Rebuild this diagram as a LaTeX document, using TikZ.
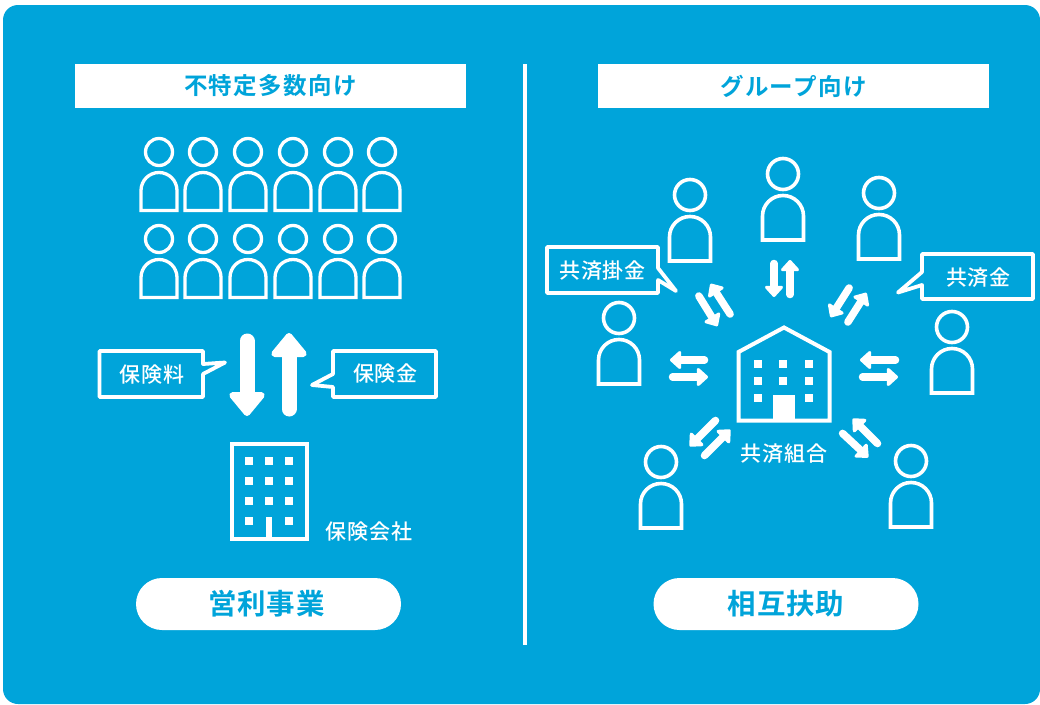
\documentclass[tikz,border=0pt]{standalone}
\usepackage{fontspec}
\setmainfont{Noto Sans CJK JP}
\usetikzlibrary{arrows.meta}
\definecolor{skyb}{HTML}{00A4DA}
\newfontfamily\lbl[LetterSpace=4]{Noto Sans CJK JP Medium}
\newfontfamily\hdr[LetterSpace=6]{Noto Sans CJK JP Bold}
\newfontfamily\pil[LetterSpace=3]{Noto Sans CJK JP Bold}
\tikzset{
  lineart/.style={draw=white,line width=#1,line join=miter},
  lineart/.default=3,
  txtw/.style={text=white,inner sep=0pt,font=\lbl\fontsize{21}{24}\selectfont},
  callout/.style={draw=white,line width=3.8,line join=round},
  bar/.style={fill=white,draw=none,text=skyb,inner sep=0pt,minimum width=391pt,minimum height=44pt,font=\hdr\fontsize{23.5}{26}\selectfont},
  pill/.style={fill=white,draw=none,text=skyb,rounded corners=26pt,inner sep=0pt,minimum width=265pt,minimum height=52pt,font=\pil\fontsize{28.5}{30}\selectfont},
  smallarrow/.style={draw=white,line width=7.5pt,line cap=round,-{Triangle[round,length=12pt,width=21pt]}},
  bigarrow/.style={draw=white,line width=15pt,line cap=round,-{Triangle[round,length=26pt,width=41pt]}},
}
% \persona{cx}{cy}{circle r}{half width}{body top offset}{body bottom offset}{stroke}
\newcommand\persona[7]{%
  \draw[lineart=#7] (#1,#2) circle[radius=#3pt];
  \draw[lineart=#7] (#1-#4,#2+#6) -- (#1-#4,#2+#5+#4) arc[start angle=180,end angle=0,radius=#4pt] -- (#1+#4,#2+#6) -- cycle;
}
\newcommand\lefty[2]{\persona{#1}{#2}{13.5}{18}{20.5}{58.5}{3.3}}
\newcommand\righty[2]{\persona{#1}{#2}{15.5}{20.5}{21.5}{66}{3.6}}
\newcommand\win[2]{\fill[white] (#1-3.8,#2-3.8) rectangle (#1+3.8,#2+3.8);}
\begin{document}
\begin{tikzpicture}[x=1pt,y=-1pt]
\useasboundingbox (0,0) rectangle (1040,704);
\fill[white] (0,0) rectangle (1040,704);
\fill[skyb,rounded corners=15pt] (3,5) rectangle (1040,704);
% divider
\coordinate (divt) at (525,64); \coordinate (divb) at (525,645);
\draw[white,line width=3.8pt] (divt) -- (divb);
% headers
\node[bar] (hl) at (270.5,86) {不特定多数向け};
\node[bar] (hr) at (793.5,86) {グループ向け};
% pills
\node[pill] (pl) at (268.5,604) {\hspace{-4pt}営利事業};
\node[pill] (pr) at (786,604) {相互扶助};
% crowd
\foreach \x in {159,203,248,293,338,382}{\lefty{\x}{152}\lefty{\x}{239}}
% big arrows
\coordinate (bd1) at (247,341); \coordinate (bd2) at (247,416);
\coordinate (bu1) at (289,409); \coordinate (bu2) at (289,333);
\draw[bigarrow] (bd1) -- (bd2);
\draw[bigarrow] (bu1) -- (bu2);
% callouts left
\draw[callout] (99.5,351) -- (203,351) -- (203,364) -- (225,362.5) -- (203,374) -- (203,397) -- (99.5,397) -- cycle;
\node[txtw] (t1) at (152,375) {保険料};
\draw[callout] (333,351) -- (436,351) -- (436,397) -- (333,397) -- (333,387) -- (312,385) -- (333,374) -- cycle;
\node[txtw] (t2) at (385.5,373.5) {保険金};
% left building
\draw[lineart=4] (232,444) rectangle (306.5,538.5);
\foreach \x in {249,269,289}\foreach \y in {461,481,501}{\win{\x}{\y}}
\win{249}{521}\win{289}{521}
\fill[white] (266,517) rectangle (272,540);
\node[txtw] (t3) at (369,532) {保険会社};
% right people
\righty{690}{195}\righty{783}{174}\righty{879}{193}\righty{952}{327}\righty{911}{461}\righty{661}{462}\righty{619}{318}
% right building
\draw[lineart=4] (738.5,420.5) -- (738.5,352) -- (784,327.5) -- (829.5,352) -- (829.5,420.5) -- cycle;
\foreach \x in {758,783,809}\foreach \y in {364,381}{\win{\x}{\y}}
\win{758}{398}\win{809}{398}
\fill[white] (773,395) rectangle (795,422);
\node[txtw] (t4) at (784,454) {共済組合};
% callouts right
\draw[callout] (547,247) -- (658,247) -- (658,268) -- (676,291) -- (658,280) -- (658,293) -- (547,293) -- cycle;
\node[txtw] (t5) at (602.5,271) {共済掛金};
\draw[callout] (922,254) -- (1033,254) -- (1033,299) -- (922,299) -- (922,285) -- (898,292.5) -- (922,272) -- cycle;
\node[txtw] (t6) at (978.5,278) {共済金};
% small arrows
\foreach \n/\ax/\ay/\bx/\by in {
 a/708/360/669/360, b/669/377/709/377,
 c/899/360/859/360, d/859/377/899/377,
 e/718/418/689/447, f/702/458/731/429,
 g/840/431/869/458, h/880/446/852/418,
 i/697/293/718/327, j/732/317/710/283,
 k/851/285/830/318, l/846/325/867/292,
 m/774/260/774/298, n/790/298/790/259}{
  \coordinate (\n1) at (\ax,\ay); \coordinate (\n2) at (\bx,\by);
  \draw[smallarrow,shorten >=1pt,shorten <=3.5pt] (\n1) -- (\n2);
}
\end{tikzpicture}
\end{document}
